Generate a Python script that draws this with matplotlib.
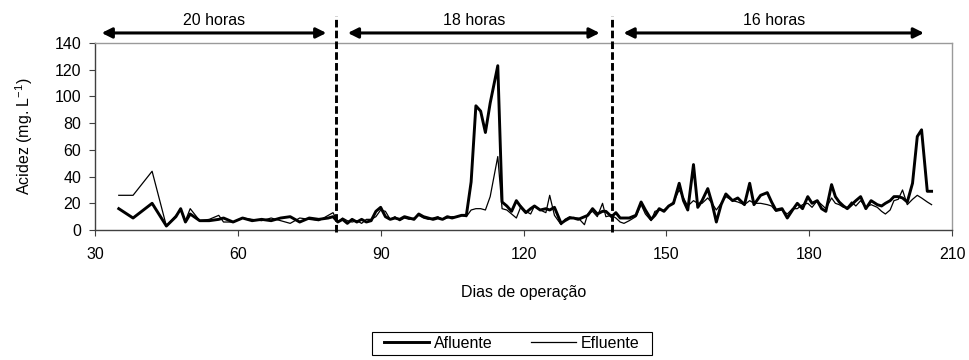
import matplotlib
matplotlib.use("Agg")
import matplotlib.pyplot as plt
from matplotlib.patches import Rectangle

plt.rcParams['font.family'] = ['Liberation Sans', 'DejaVu Sans']
plt.rcParams['mathtext.fontset'] = 'custom'
plt.rcParams['mathtext.rm'] = 'Liberation Sans'
plt.rcParams['mathtext.default'] = 'regular'

# Dias de operação (amostragens)
dias = [35, 38, 42, 45, 47, 48, 49, 50, 52, 54, 56, 57, 59, 61, 63, 65, 67, 69, 71, 73,
        75, 77, 79, 80, 81, 82, 83, 84, 85, 86, 87, 88, 89, 90, 91, 92, 93, 94, 95, 96,
        97, 98, 99, 100, 101, 102, 103, 104, 105, 106, 107, 108, 109, 110, 111, 112, 113, 114.6, 115.5, 116.5,
        117.5, 118.5, 119.5, 120.5, 121.5, 122.3, 123.5, 124.7, 125.5, 126.5, 127.9, 128.7, 129.7, 130.5, 131.5, 132.8, 133.5, 134.5, 135.5, 136.6,
        137.3, 138.5, 139.4, 140.3, 141.1, 142.2, 143.6, 144.7, 145.6, 146.8, 147.6, 148.5, 149.5, 150.5, 151.5, 152.7, 153.6, 154.5, 155.7, 156.6,
        157.5, 158.7, 159.6, 160.5, 161.5, 162.5, 163.9, 165, 166.4, 167.5, 168.4, 169.8, 171.2, 172.1, 173, 174.3, 175.4, 176.5, 177.5, 178.6,
        179.7, 180.6, 181.7, 182.6, 183.5, 184.7, 185.5, 186.3, 187.2, 188, 188.9, 189.8, 190.8, 191.9, 193, 194.3, 195.2, 196, 197, 197.8,
        198.7, 199.6, 200.6, 201.7, 202.7, 203.6, 204.8, 205.7]

afluente = [16, 9, 20, 3, 10, 16, 6, 12, 7, 7, 8, 9, 6, 9, 7, 8, 7, 9, 10, 6,
            9, 8, 9, 10, 6, 8, 5, 8, 6, 8, 6, 7, 14, 17, 10, 8, 9, 8, 10, 9,
            8, 12, 10, 9, 8, 9, 8, 10, 9, 10, 11, 11, 36, 93, 89, 73, 95, 123, 21, 18,
            14, 22, 17, 13, 16, 18, 15, 16, 15, 17, 5, 7, 9, 9, 8, 10, 11, 16, 12, 14,
            14, 10, 13, 9, 9, 9, 11, 21, 15, 8, 11, 16, 14, 18, 20, 35, 22, 15, 49, 17,
            22, 31, 20, 6, 19, 27, 22, 24, 19, 35, 19, 26, 28, 21, 15, 16, 9, 15, 20, 16,
            25, 20, 22, 16, 14, 34, 25, 21, 18, 16, 19, 22, 25, 16, 22, 19, 18, 20, 22, 25,
            25, 24, 21, 35, 70, 75, 29, 29]

efluente = [26, 26, 44, 3, 11, 15, 7, 16, 7, 8, 11, 6, 6, 9, 8, 7, 9, 7, 5, 9,
            8, 7, 11, 13, 6, 9, 7, 6, 7, 5, 8, 8, 10, 15, 14, 8, 10, 7, 9, 8,
            9, 11, 9, 8, 9, 10, 8, 9, 10, 10, 11, 10, 15, 16, 16, 15, 25, 55, 16, 15,
            12, 9, 18, 14, 12, 18, 15, 13, 26, 11, 4, 8, 10, 9, 9, 4, 12, 14, 10, 20,
            10, 11, 9, 6, 5, 7, 10, 19, 12, 7, 14, 15, 15, 18, 21, 30, 24, 18, 22, 20,
            20, 24, 20, 15, 20, 25, 22, 21, 19, 22, 20, 20, 19, 18, 14, 15, 12, 16, 16, 19,
            20, 17, 22, 19, 16, 24, 20, 19, 17, 17, 21, 18, 22, 17, 19, 17, 14, 12, 15, 22,
            23, 30, 19, 23, 26, 24, 21, 19]

# Períodos (TDH)
periodos = ['20 horas', '18 horas', '16 horas']
periodo_inicio = [31.4, 83.1, 141.0]
periodo_fim = [78.6, 136.0, 204.1]
divisoes = [80.7, 138.5]

fs = 11.5

fig = plt.figure(figsize=(9.69, 3.6), dpi=100)
ax = fig.add_axes([0.098, 0.361, 0.8845, 0.5196])

ax.plot(dias, afluente, color='black', lw=2.1, label='Afluente')
ax.plot(dias, efluente, color='black', lw=0.9, label='Efluente')

ax.set_xlim(30, 210)
ax.set_ylim(0, 140)
ax.set_xticks(range(30, 211, 30))
ax.set_yticks(range(0, 141, 20))
ax.tick_params(labelsize=fs, direction='out', length=4, width=0.8,
               colors='#404040', labelcolor='black')
ax.tick_params(axis='x', pad=8)
ax.tick_params(axis='y', pad=6)

for lado in ['left', 'bottom']:
    ax.spines[lado].set_color('#404040')
    ax.spines[lado].set_linewidth(1.0)
for lado in ['top', 'right']:
    ax.spines[lado].set_color('#9a9a9a')
    ax.spines[lado].set_linewidth(1.0)

ax.set_xlabel('Dias de operação', fontsize=fs, labelpad=17)
ax.set_ylabel('Acidez (mg. L$^{-1}$)', fontsize=fs, labelpad=14)

# Linhas de separação dos períodos
for d in divisoes:
    ax.plot([d, d], [-1.5, 160], color='black', lw=2.1, linestyle=(0, (2.6, 1.1)),
            clip_on=False, zorder=5)

# Setas e rótulos dos períodos
for nome, ini, fim in zip(periodos, periodo_inicio, periodo_fim):
    ax.annotate('', xy=(fim, 147.5), xytext=(ini, 147.5),
                arrowprops=dict(arrowstyle='<|-|>', color='black', lw=2.2,
                                mutation_scale=15, shrinkA=0, shrinkB=0),
                annotation_clip=False)
    ax.text((ini + fim) / 2, 157, nome, ha='center', va='center', fontsize=fs)

leg = fig.legend(loc='center', bbox_to_anchor=(0.528, 0.046), ncol=2, fontsize=fs,
                 frameon=False, handlelength=2.8, columnspacing=2.4,
                 handletextpad=0.3, borderpad=0.2, borderaxespad=0)
fig.patches.append(Rectangle((372 / 969, 5 / 360), 280 / 969, 23 / 360,
                             transform=fig.transFigure, fill=False,
                             edgecolor='black', linewidth=0.8))

fig.savefig('out.png', dpi=100)
